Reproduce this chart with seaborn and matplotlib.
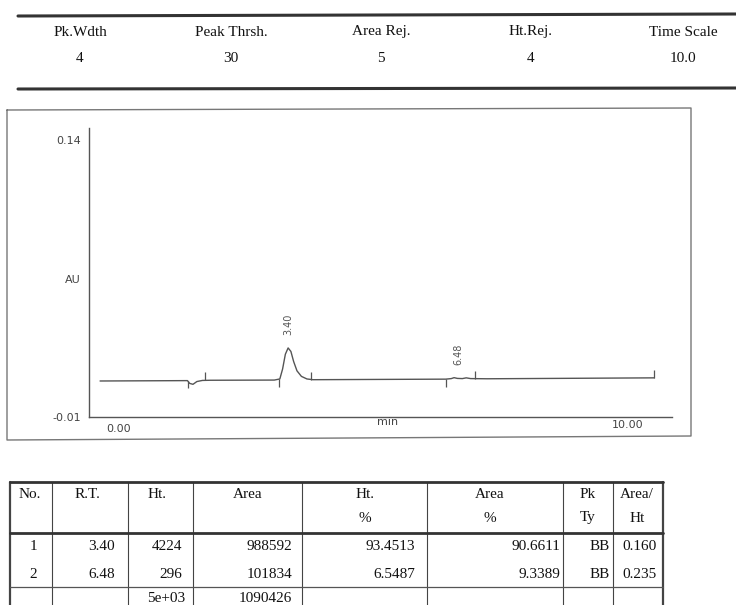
import matplotlib
matplotlib.use("Agg")
import matplotlib.pyplot as plt
import seaborn as sns
import pandas as pd

# --- report settings (header strip) ---
param_names = ["Pk.Wdth", "Peak Thrsh.", "Area Rej.", "Ht.Rej.", "Time Scale"]
param_values = ["4", "30", "5", "4", "10.0"]

# --- chromatogram trace (min, AU) ---
trace_time = [0.00, 1.58, 1.62, 1.68, 1.75, 1.85, 2.00, 3.15, 3.25, 3.30, 3.35,
              3.40, 3.45, 3.50, 3.56, 3.64, 3.74, 3.85, 6.25, 6.35, 6.40, 6.46,
              6.55, 6.62, 6.70, 7.00, 10.02]
trace_au = [0.0095, 0.0097, 0.0082, 0.0077, 0.0092, 0.0098, 0.0099, 0.0100, 0.0106,
            0.0160, 0.0240, 0.0274, 0.0255, 0.0200, 0.0150, 0.0120, 0.0106, 0.0102,
            0.0105, 0.0108, 0.0113, 0.0109, 0.0108, 0.0112, 0.0108, 0.0107, 0.0112]

# integration start (down) / end (up) marks
mark_time = [1.59, 1.90, 3.24, 3.82, 6.26, 6.78, 10.02]
mark_dir = [-1, 1, -1, 1, -1, 1, 1]
mark_base = [0.0097, 0.0099, 0.0104, 0.0102, 0.0105, 0.0108, 0.0112]

peak_rt = [3.40, 6.48]
peak_apex = [0.0274, 0.0113]

# --- results table ---
col_head1 = ["No.", "R.T.", "Ht.", "Area", "Ht.", "Area", "Pk", "Area/"]
col_head2 = ["", "", "", "", "%", "%", "Ty", "Ht"]
peak_no = ["1", "2"]
rt_text = ["3.40", "6.48"]
height = ["4224", "296"]
area = ["988592", "101834"]
height_pct = ["93.4513", "6.5487"]
area_pct = ["90.6611", "9.3389"]
pk_type = ["BB", "BB"]
area_ht = ["0.160", "0.235"]
total_ht = "5e+03"
total_area = "1090426"

sns.set_style("white")
plt.rcParams["font.family"] = ["DejaVu Sans"]

fig = plt.figure(figsize=(7.36, 6.05), dpi=100)

# full-figure overlay in pixel units for the printed report frame
bg = fig.add_axes([0, 0, 1, 1])
bg.set_xlim(0, 736)
bg.set_ylim(605, 0)
bg.axis("off")

serif = "Liberation Serif"
ink = "#111111"
fs = 11

# header strip
bg.plot([18, 736], [16, 14], color="#333", lw=2.2)
bg.plot([18, 736], [89, 88], color="#333", lw=2.2)
for cx, name, val in zip([80, 231, 381, 531, 683], param_names, param_values):
    bg.text(cx, 32, name, ha="center", va="center", family=serif, fontsize=fs, color=ink)
    bg.text(cx, 58, val, ha="center", va="center", family=serif, fontsize=fs, color=ink)

# chart frame
bg.plot([7, 691, 691, 7, 7], [110, 108, 436, 440, 110], color="#777", lw=1.0)

# results table grid
cols = [10, 52, 128, 193, 302, 427, 563, 613, 663]
for i, cx in enumerate(cols):
    lw = 1.6 if i in (0, len(cols) - 1) else 0.8
    bg.plot([cx, cx], [482, 606], color="#444", lw=lw)
bg.plot([10, 663], [482, 482], color="#333", lw=2.0)
bg.plot([10, 663], [533, 533], color="#333", lw=2.0)
bg.plot([10, 663], [587, 587], color="#555", lw=0.9)

head_x = [30, 87, 157, 248, 365, 490, 588, 637]
for hx, h1, h2 in zip(head_x, col_head1, col_head2):
    bg.text(hx, 495, h1, ha="center", va="center", family=serif, fontsize=fs, color=ink)
    if h2:
        bg.text(hx, 518, h2, ha="center", va="center", family=serif, fontsize=fs, color=ink)

row_y = [547, 574]
right_x = [115, 182, 292, 415, 560, 610, 657]
for r, y in enumerate(row_y):
    bg.text(33, y, peak_no[r], ha="center", va="center", family=serif, fontsize=fs, color=ink)
    vals = [rt_text[r], height[r], area[r], height_pct[r], area_pct[r], pk_type[r], area_ht[r]]
    for rx, v in zip(right_x, vals):
        bg.text(rx, y, v, ha="right", va="center", family=serif, fontsize=fs, color=ink)
bg.text(185, 599, total_ht, ha="right", va="center", family=serif, fontsize=fs, color=ink)
bg.text(292, 599, total_area, ha="right", va="center", family=serif, fontsize=fs, color=ink)

# chromatogram axes
ax = fig.add_axes([89 / 736, 1 - 417 / 605, (672 - 89) / 736, (417 - 128) / 605])
ax.patch.set_alpha(0)
df = pd.DataFrame({"time": trace_time, "au": trace_au})
sns.lineplot(data=df, x="time", y="au", ax=ax, color="#555", lw=1.0)
for t, d, b in zip(mark_time, mark_dir, mark_base):
    ax.vlines(t, b, b + d * 0.0042, color="#555", lw=0.9)
for rt, apex in zip(peak_rt, peak_apex):
    ax.text(rt, apex + 0.007, f"{rt:.2f}", rotation=90, ha="center", va="bottom",
            fontsize=7, color="#555")

ax.set_xlim(-0.2, 10.34)
ax.set_ylim(-0.01, 0.1465)
ax.set_xlabel("")
ax.set_ylabel("")
for s in ["top", "right"]:
    ax.spines[s].set_visible(False)
for s in ["left", "bottom"]:
    ax.spines[s].set_color("#555")
    ax.spines[s].set_linewidth(1.0)
ax.set_yticks([-0.01, 0.0275, 0.065, 0.1025, 0.14])
ax.set_yticklabels(["-0.01", "", "AU", "", "0.14"], fontsize=8, color="#444")
ax.set_xticks([2.5, 5.0, 7.5])
ax.set_xticklabels([])
ax.tick_params(axis="both", direction="out", length=4, width=0.8, color="#555", pad=2)
ax.text(0.33, -0.0165, "0.00", ha="center", va="center", fontsize=8, color="#444", clip_on=False)
ax.text(5.2, -0.0125, "min", ha="center", va="center", fontsize=8, color="#444", clip_on=False)
ax.text(9.53, -0.0145, "10.00", ha="center", va="center", fontsize=8, color="#444", clip_on=False)

fig.savefig("out.png", dpi=100)
